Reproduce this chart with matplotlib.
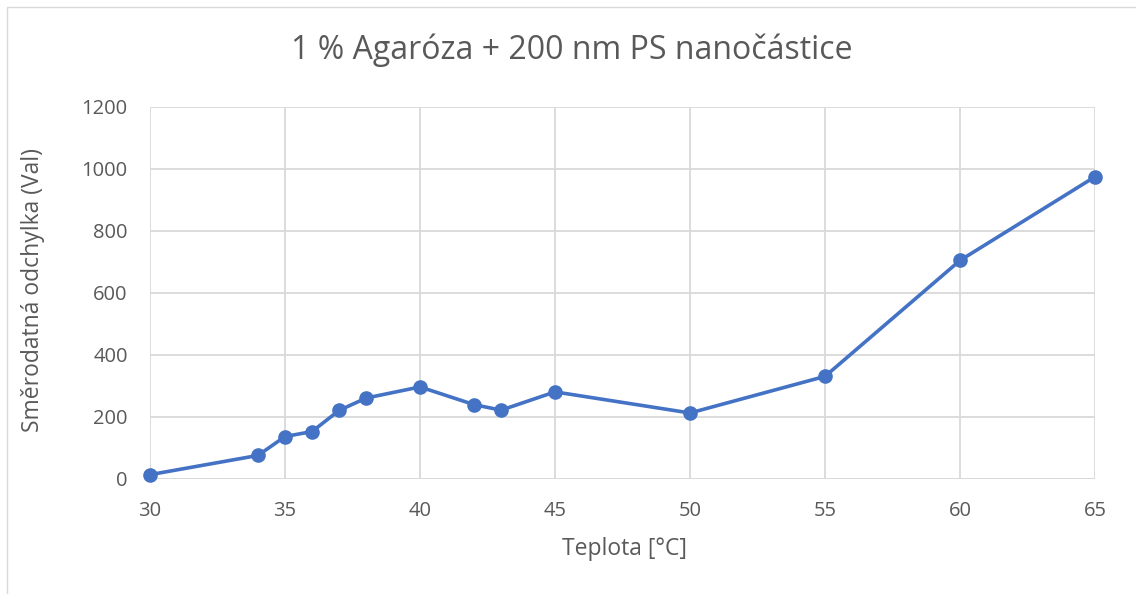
import matplotlib.pyplot as plt
from matplotlib.patches import Rectangle

plt.rcParams['font.family'] = ['Open Sans', 'DejaVu Sans']

# teplota [°C] a směrodatná odchylka
teplota = [30, 34, 35, 36, 37, 38, 40, 42, 43, 45, 50, 55, 60, 65]
odchylka = [14, 76, 137, 153, 221, 261, 297, 240, 222, 281, 213, 331, 705, 975]

x_ticks = [30, 35, 40, 45, 50, 55, 60, 65]
y_ticks = [0, 200, 400, 600, 800, 1000, 1200]

title = "1 % Agaróza + 200 nm PS nanočástice"
xlabel = "Teplota [°C]"
ylabel = "Směrodatná odchylka (Val)"

text_color = "#595959"
grid_color = "#d9d9d9"
line_color = "#4472c4"

W, H = 1136, 594
fig = plt.figure(figsize=(W / 100, H / 100), dpi=100)
ax = fig.add_axes([150 / W, 1 - 479 / H, (1095 - 150) / W, (479 - 107) / H])

# chart area frame
fig.patches.append(Rectangle((7 / W, -0.1), 1.2, 1 - 7 / H + 0.1,
                             transform=fig.transFigure, fill=False,
                             edgecolor=grid_color, linewidth=1))

ax.plot(teplota, odchylka, color=line_color, linewidth=2.6,
        marker="o", markersize=9.5, zorder=3, clip_on=False)

ax.set_xlim(30, 65)
ax.set_ylim(0, 1200)
ax.set_xticks(x_ticks)
ax.set_yticks(y_ticks)
ax.grid(True, color=grid_color, linewidth=1.3)
ax.set_axisbelow(True)
for side in ["top", "right", "left", "bottom"]:
    ax.spines[side].set_visible(False)
ax.axhline(0, color=grid_color, linewidth=1.3, zorder=1)
ax.tick_params(length=0, labelsize=14.5, colors=text_color)
ax.tick_params(axis="x", pad=16)
ax.tick_params(axis="y", pad=16)

ax.set_xlabel(xlabel, fontsize=16.5, color=text_color)
ax.set_ylabel(ylabel, fontsize=16.5, color=text_color)
ax.xaxis.set_label_coords((625 - 150) / (1095 - 150), -(549 - 479) / (479 - 107))
ax.yaxis.set_label_coords(-(150 - 33) / (1095 - 150), (479 - 290) / (479 - 107))
ax.xaxis.label.set_va("center")
ax.yaxis.label.set_va("center")
fig.text(572 / W, 1 - 50 / H, title, ha="center",
         va="center", fontsize=23, color=text_color)

fig.savefig("out.png", dpi=100)
